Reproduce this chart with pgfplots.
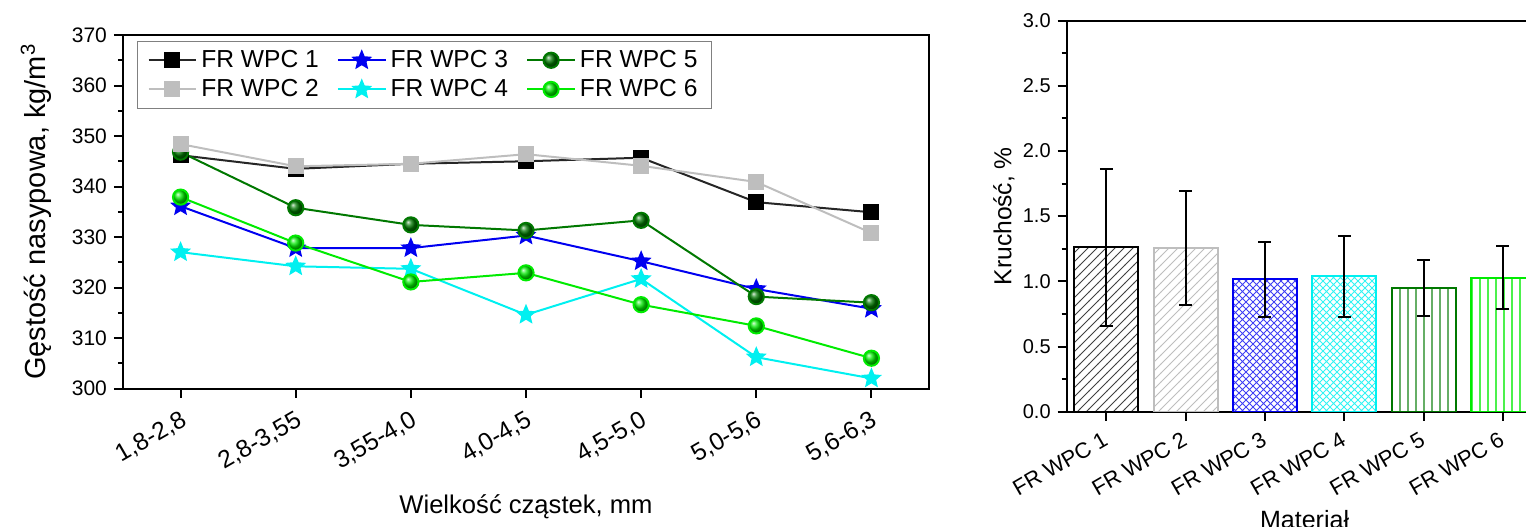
\documentclass[border=0pt]{standalone}
\usepackage{fontspec}
\setmainfont{Liberation Sans}
\usepackage{pgfplots}
\pgfplotsset{compat=1.18}
\usetikzlibrary{patterns}

\definecolor{wgray}{RGB}{190,190,190}
\definecolor{wdgreen}{RGB}{0,120,0}
\definecolor{wgreen}{RGB}{0,235,0}
\definecolor{wcyan}{RGB}{0,240,240}
\definecolor{wblue}{RGB}{0,0,240}

% filled five-pointed star
\pgfdeclareplotmark{fstar}{%
  \pgfpathmoveto{\pgfpointpolar{90}{\pgfplotmarksize}}%
  \pgfpathlineto{\pgfpointpolar{126}{0.45\pgfplotmarksize}}%
  \pgfpathlineto{\pgfpointpolar{162}{\pgfplotmarksize}}%
  \pgfpathlineto{\pgfpointpolar{198}{0.45\pgfplotmarksize}}%
  \pgfpathlineto{\pgfpointpolar{234}{\pgfplotmarksize}}%
  \pgfpathlineto{\pgfpointpolar{270}{0.45\pgfplotmarksize}}%
  \pgfpathlineto{\pgfpointpolar{306}{\pgfplotmarksize}}%
  \pgfpathlineto{\pgfpointpolar{342}{0.45\pgfplotmarksize}}%
  \pgfpathlineto{\pgfpointpolar{18}{\pgfplotmarksize}}%
  \pgfpathlineto{\pgfpointpolar{54}{0.45\pgfplotmarksize}}%
  \pgfpathclose
  \pgfusepathqfillstroke}

% bar patterns
\pgfdeclarepatternformonly{nelines}{\pgfqpoint{-1pt}{-1pt}}{\pgfqpoint{5.5pt}{5.5pt}}{\pgfqpoint{4.5pt}{4.5pt}}{%
  \pgfsetlinewidth{0.5pt}
  \pgfpathmoveto{\pgfqpoint{0pt}{0pt}}
  \pgfpathlineto{\pgfqpoint{4.6pt}{4.6pt}}
  \pgfusepath{stroke}}
\pgfdeclarepatternformonly{diagcross}{\pgfqpoint{-1pt}{-1pt}}{\pgfqpoint{4.5pt}{4.5pt}}{\pgfqpoint{3.5pt}{3.5pt}}{%
  \pgfsetlinewidth{0.5pt}
  \pgfpathmoveto{\pgfqpoint{0pt}{0pt}}
  \pgfpathlineto{\pgfqpoint{3.6pt}{3.6pt}}
  \pgfpathmoveto{\pgfqpoint{0pt}{3.5pt}}
  \pgfpathlineto{\pgfqpoint{3.6pt}{-0.1pt}}
  \pgfusepath{stroke}}
\pgfdeclarepatternformonly{vlines}{\pgfqpoint{-1pt}{-1pt}}{\pgfqpoint{1pt}{5pt}}{\pgfqpoint{4pt}{4pt}}{%
  \pgfsetlinewidth{0.6pt}
  \pgfpathmoveto{\pgfqpoint{0pt}{0pt}}
  \pgfpathlineto{\pgfqpoint{0pt}{4.1pt}}
  \pgfusepath{stroke}}

\pgfplotsset{
  frame/.style={
    scale only axis, anchor=south west,
    tick align=outside, xtick pos=bottom, ytick pos=left,
    major tick length=4.5pt, minor tick length=2.5pt,
    axis line style={line width=1pt},
    every tick/.style={black, line width=1pt},
    /pgf/number format/assume math mode=true,
  },
  bar/.style={ybar, bar width=32pt, bar shift=0pt, line width=1pt,
    error bars/y dir=both, error bars/y explicit,
    error bars/error bar style={black, line width=1pt},
    error bars/error mark options={rotate=90, black, mark size=3.25pt, line width=1pt}},
}

\begin{document}
\begin{tikzpicture}
\useasboundingbox (0,0) rectangle (763pt,263pt);
\clip (0,0) rectangle (763pt,263pt);

\begin{axis}[frame,
  at={(61.5pt,68.75pt)}, width=403pt, height=176.75pt,
  xmin=-0.5, xmax=6.5, ymin=300, ymax=370,
  xtick={0,...,6},
  xticklabels={{1,8-2,8},{2,8-3,55},{3,55-4,0},{4,0-4,5},{4,5-5,0},{5,0-5,6},{5,6-6,3}},
  ytick={300,310,...,370}, minor y tick num=1,
  yticklabel style={font=\fontsize{10.5}{12}\selectfont},
  xticklabel style={font=\fontsize{12.3}{14}\selectfont, rotate=30, anchor=east, yshift=-10pt, xshift=0pt},
  xlabel={Wielkość cząstek, mm},
  ylabel={Gęstość nasypowa, kg/m\textsuperscript{3}},
  xlabel style={font=\fontsize{12.8}{14}\selectfont, at={(axis description cs:0.5,-0.335)}, anchor=center},
  ylabel style={font=\fontsize{14.5}{16}\selectfont, at={(axis description cs:-0.108,0.5)}, anchor=center},
  legend columns=3,
  legend cell align=left,
  legend style={at={(0.0174,0.984)}, anchor=north west, draw=gray, line width=0.5pt,
    font=\fontsize{12.3}{14}\selectfont, inner xsep=5pt, inner ysep=2.5pt, row sep=0.5pt,
    /tikz/every even column/.append style={column sep=7pt}},
  legend image code/.code={\draw[mark repeat=2,mark phase=2] plot coordinates {(0cm,0cm) (0.42cm,0cm) (0.84cm,0cm)};},
]
\addplot[black!85, line width=1pt, mark=square*, mark size=3.5pt, mark options={black}]
  coordinates {(0,346.2)(1,343.5)(2,344.5)(3,345.0)(4,345.7)(5,336.9)(6,334.9)};
\addlegendentry{FR WPC 1}
\addplot[wblue, line width=1pt, mark=fstar, mark size=4.2pt]
  coordinates {(0,336.1)(1,327.8)(2,327.8)(3,330.3)(4,325.2)(5,319.7)(6,315.8)};
\addlegendentry{FR WPC 3}
\addplot[wdgreen, line width=1pt, mark=ball, mark size=3.8pt, mark options={ball color=wdgreen}]
  coordinates {(0,346.8)(1,335.8)(2,332.4)(3,331.3)(4,333.3)(5,318.2)(6,317.0)};
\addlegendentry{FR WPC 5}
\addplot[wgray, line width=1pt, mark=square*, mark size=3.5pt]
  coordinates {(0,348.4)(1,344.0)(2,344.5)(3,346.4)(4,344.1)(5,340.9)(6,330.8)};
\addlegendentry{FR WPC 2}
\addplot[wcyan, line width=1pt, mark=fstar, mark size=4.2pt]
  coordinates {(0,327.0)(1,324.2)(2,323.7)(3,314.6)(4,321.7)(5,306.2)(6,302.0)};
\addlegendentry{FR WPC 4}
\addplot[wgreen, line width=1pt, mark=ball, mark size=3.8pt, mark options={ball color=wgreen}]
  coordinates {(0,337.9)(1,328.8)(2,321.1)(3,322.9)(4,316.6)(5,312.4)(6,306.0)};
\addlegendentry{FR WPC 6}
\end{axis}

\begin{axis}[frame,
  at={(533.35pt,57.15pt)}, width=237.9pt, height=195.5pt,
  xmin=0.5, xmax=6.5, ymin=0, ymax=3,
  xtick={1,...,6},
  xticklabels={FR WPC 1,FR WPC 2,FR WPC 3,FR WPC 4,FR WPC 5,FR WPC 6},
  ytick={0,0.5,...,3}, minor y tick num=1,
  yticklabel style={/pgf/number format/.cd, fixed, fixed zerofill, precision=1, /tikz/.cd,
    font=\fontsize{10}{12}\selectfont},
  xticklabel style={font=\fontsize{11}{13}\selectfont, rotate=30, anchor=east, yshift=-7pt, xshift=-1pt},
  xlabel={Materiał},
  ylabel={Kruchość, \%},
  xlabel style={font=\fontsize{12.5}{14}\selectfont, at={(axis description cs:0.5,-0.275)}, anchor=center},
  ylabel style={font=\fontsize{12.3}{14}\selectfont, at={(axis description cs:-0.132,0.5)}, anchor=center},
]
\addplot[bar, draw=black, pattern=nelines, pattern color=black!75]
  coordinates {(1,1.26) +- (0,0.60)};
\addplot[bar, draw=wgray, pattern=nelines, pattern color=wgray]
  coordinates {(2,1.257) +- (0,0.44)};
\addplot[bar, draw=wblue, pattern=diagcross, pattern color=wblue!75]
  coordinates {(3,1.015) +- (0,0.29)};
\addplot[bar, draw=wcyan, pattern=diagcross, pattern color=wcyan!80]
  coordinates {(4,1.04) +- (0,0.31)};
\addplot[bar, draw=wdgreen, pattern=vlines, pattern color=wdgreen!60]
  coordinates {(5,0.948) +- (0,0.215)};
\addplot[bar, draw=wgreen, pattern=vlines, pattern color=wgreen!70]
  coordinates {(6,1.028) +- (0,0.243)};
\end{axis}
\end{tikzpicture}
\end{document}
